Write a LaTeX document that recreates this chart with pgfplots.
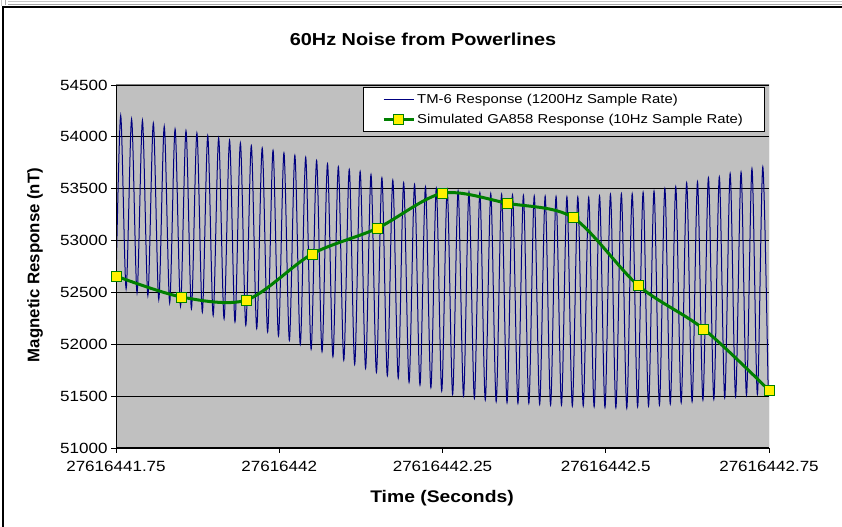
\documentclass[border=0pt]{standalone}
\usepackage{fontspec}
\setmainfont[FakeStretch=1.15]{Liberation Sans}
\newfontfamily\plainsans{Liberation Sans}
\usepackage{pgfplots}
\pgfplotsset{compat=1.18}
\usepackage{pgfplotstable}
\definecolor{plotgray}{HTML}{C0C0C0}
\definecolor{navyline}{HTML}{000080}
\definecolor{xlgreen}{HTML}{008000}
\definecolor{bordergray}{HTML}{808080}

\pgfplotsset{
  lineleg/.style={legend image code/.code={\draw[##1] (0bp,0bp) -- (30bp,0bp);}},
  markleg/.style={legend image code/.code={\draw[mark repeat=2,mark phase=2,##1] plot coordinates {(0bp,0bp) (15bp,0bp) (30bp,0bp)};}},
}

% time offset from 27616441.75 s
\pgfplotstableread{
t y
0.0000 52580
0.0072 54206
0.0155 52534
0.0239 54171
0.0322 52496
0.0405 54158
0.0488 52470
0.0572 54133
0.0655 52432
0.0739 54101
0.0822 52400
0.0905 54076
0.0988 52369
0.1072 54059
0.1155 52343
0.1239 54037
0.1322 52311
0.1405 54011
0.1488 52278
0.1572 53989
0.1655 52246
0.1739 53966
0.1822 52215
0.1905 53941
0.1988 52183
0.2072 53915
0.2155 52151
0.2239 53893
0.2322 52119
0.2405 53870
0.2488 52081
0.2572 53845
0.2655 52039
0.2739 53822
0.2822 51998
0.2905 53803
0.2988 51953
0.3072 53771
0.3155 51928
0.3239 53740
0.3322 51880
0.3405 53711
0.3488 51847
0.3572 53685
0.3655 51806
0.3739 53666
0.3822 51768
0.3905 53637
0.3988 51730
0.4072 53605
0.4155 51697
0.4239 53583
0.4322 51672
0.4405 53557
0.4488 51633
0.4572 53541
0.4655 51607
0.4739 53519
0.4822 51582
0.4905 53505
0.4988 51550
0.5072 53492
0.5155 51518
0.5239 53480
0.5322 51502
0.5405 53470
0.5488 51480
0.5572 53462
0.5655 51463
0.5739 53454
0.5822 51447
0.5905 53447
0.5988 51437
0.6072 53441
0.6155 51431
0.6239 53436
0.6322 51431
0.6405 53431
0.6488 51421
0.6572 53428
0.6655 51415
0.6739 53425
0.6822 51415
0.6905 53422
0.6988 51405
0.7072 53420
0.7155 51405
0.7239 53416
0.7322 51398
0.7405 53430
0.7488 51392
0.7572 53445
0.7655 51389
0.7739 53450
0.7822 51383
0.7905 53452
0.7988 51398
0.8072 53465
0.8155 51405
0.8239 53477
0.8322 51415
0.8405 53500
0.8488 51425
0.8572 53519
0.8655 51437
0.8739 53557
0.8822 51447
0.8905 53567
0.8988 51463
0.9072 53605
0.9155 51470
0.9239 53614
0.9322 51485
0.9405 53647
0.9488 51495
0.9572 53660
0.9655 51510
0.9739 53695
0.9822 51518
0.9905 53711
0.9988 51530
}\tmsix

\pgfplotstableread{
t y
0.0 52658
0.1 52456
0.2 52427
0.3 52870
0.4 53118
0.5 53456
0.6 53359
0.7 53221
0.8 52565
0.9 52147
1.0 51556
}\gasim

\begin{document}
\begin{tikzpicture}[x=1bp,y=1bp]
\useasboundingbox (0,0) rectangle (842,527);
% window frame strip at the top
\draw[gray!45, line width=1bp] (8,525.5) -- (860,525.5);
\draw[gray!70, line width=1bp] (8,522.5) -- (860,522.5);
\draw[gray!45, line width=1bp] (1.5,530) -- (1.5,521);
\draw[gray!70, line width=1bp] (5.5,530) -- (5.5,522);
% chart area border
\draw[black, line width=2bp] (3,520) -- (860,520);
\draw[black, line width=2bp] (3,521) -- (3,-10);

\begin{axis}[
  at={(116bp,79bp)}, anchor=south west,
  width=653bp, height=363bp, scale only axis,
  xmin=0, xmax=1, ymin=51000, ymax=54500,
  scaled x ticks=false, scaled y ticks=false,
  xtick={0,0.25,0.5,0.75,1},
  xticklabels={27616441.75,27616442,27616442.25,27616442.5,27616442.75},
  ytick={51000,51500,52000,52500,53000,53500,54000,54500},
  yticklabels={51000,51500,52000,52500,53000,53500,54000,54500},
  /pgf/number format/assume math mode=true,
  tick align=outside, major tick length=5bp,
  xtick pos=bottom, ytick pos=left,
  ymajorgrids, grid style={black, line width=0.75bp},
  axis line style={draw=none},
  axis background/.style={fill=plotgray},
  tick style={black, line width=0.75bp},
  tick label style={font=\fontsize{14.8bp}{16bp}\selectfont, text=black},
  xticklabel style={yshift=-5bp},
  legend style={at={(rel axis cs:0.9928,0.9953)}, anchor=north east,
    draw=black, line width=0.75bp, fill=white,
    font=\fontsize{12.9bp}{14bp}\selectfont,
    inner xsep=19bp, inner ysep=5bp, row sep=5bp},
  legend cell align=left,
]
\addplot[navyline, line width=1bp, smooth, no markers, lineleg]
  table[x=t,y=y]{\tmsix};
\addlegendentry{TM-6 Response (1200Hz Sample Rate)}
\addplot[xlgreen, line width=3bp, smooth, mark=square*, mark size=5bp,
  mark options={fill=yellow, draw=xlgreen, line width=0.75bp}, markleg]
  table[x=t,y=y]{\gasim};
\addlegendentry{Simulated GA858 Response (10Hz Sample Rate)}
\draw[bordergray, line width=1bp] (rel axis cs:0,1) -- (rel axis cs:1,1) -- (rel axis cs:1,0);
\draw[black, line width=1bp] (rel axis cs:0,1) -- (rel axis cs:0,0) -- (rel axis cs:1,0);
\end{axis}

\node[font=\bfseries\fontsize{17.3bp}{19bp}\selectfont] at (423,488) {60Hz Noise from Powerlines};
\node[font=\bfseries\fontsize{16.8bp}{19bp}\selectfont] at (442,29) {Time (Seconds)};
\node[rotate=90, font=\plainsans\bfseries\fontsize{16.8bp}{19bp}\selectfont] at (35,262) {Magnetic Response (nT)};
\end{tikzpicture}
\end{document}
